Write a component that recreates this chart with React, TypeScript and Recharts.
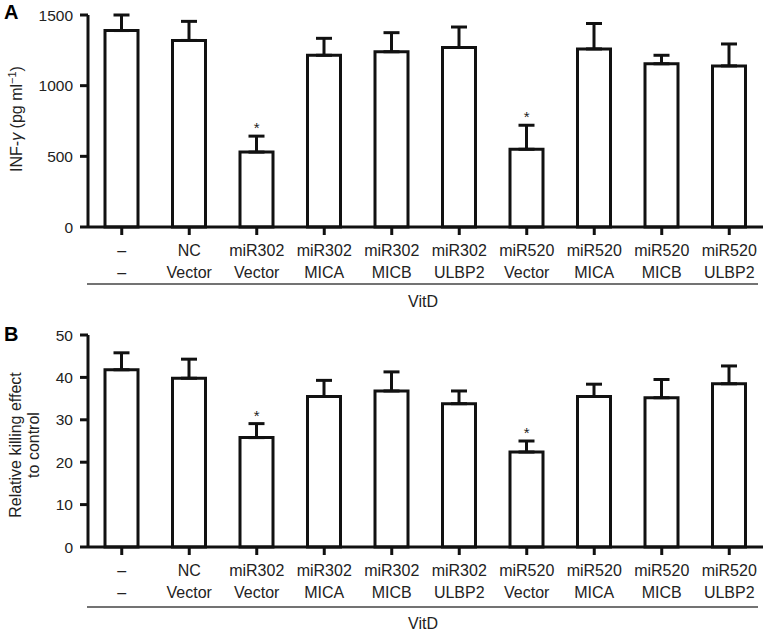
import { BarChart, Bar, XAxis, YAxis, ErrorBar, ReferenceDot } from 'recharts';

const groupTop = ['–', 'NC', 'miR302', 'miR302', 'miR302', 'miR302', 'miR520', 'miR520', 'miR520', 'miR520'];
const groupBottom = ['–', 'Vector', 'Vector', 'MICA', 'MICB', 'ULBP2', 'Vector', 'MICA', 'MICB', 'ULBP2'];
const infGamma = [1390, 1320, 530, 1215, 1240, 1270, 550, 1260, 1155, 1140];
const infGammaErr = [110, 135, 113, 120, 135, 145, 170, 180, 60, 155];
const killing = [41.8, 39.8, 25.8, 35.5, 36.8, 33.8, 22.4, 35.5, 35.2, 38.5];
const killingErr = [4, 4.5, 3.3, 3.8, 4.5, 3, 2.6, 2.9, 4.3, 4.2];
const significant = [false, false, true, false, false, false, true, false, false, false];
const infTicks = [0, 500, 1000, 1500];
const killTicks = [0, 10, 20, 30, 40, 50];

const FONT = '"Liberation Sans", Arial, Helvetica, sans-serif';
const INK = '#111';

function buildRows(values: number[], errs: number[]) {
  return values.map((v, i) => ({
    cat: `${groupTop[i]} ${groupBottom[i]}`,
    value: v,
    err: [0, errs[i]],
    top: v + errs[i],
    sig: significant[i],
  }));
}

function TwoLineTick(props: any) {
  const { x, y, index } = props;
  return (
    <g>
      <text x={x} y={y + 21} textAnchor="middle" fontSize={16} fontFamily={FONT} fill="#222">
        {groupTop[index]}
      </text>
      <text x={x} y={y + 43} textAnchor="middle" fontSize={16} fontFamily={FONT} fill="#222">
        {groupBottom[index]}
      </text>
    </g>
  );
}

interface PanelProps {
  values: number[];
  errs: number[];
  max: number;
  ticks: number[];
}

function Panel({ values, errs, max, ticks }: PanelProps) {
  const rows = buildRows(values, errs);
  return (
    <BarChart width={766} height={300} data={rows} margin={{ top: 15, right: 3, left: 0, bottom: 0 }} barCategoryGap={17}>
      <XAxis
        dataKey="cat"
        interval={0}
        height={73}
        tickSize={8}
        tickMargin={0}
        axisLine={{ stroke: INK, strokeWidth: 3 }}
        tickLine={{ stroke: INK, strokeWidth: 3 }}
        tick={<TwoLineTick />}
      />
      <YAxis
        domain={[0, max]}
        ticks={ticks}
        interval={0}
        width={88}
        tickSize={8}
        tickMargin={7}
        axisLine={{ stroke: INK, strokeWidth: 3 }}
        tickLine={{ stroke: INK, strokeWidth: 3 }}
        tick={{ fill: '#222', fontSize: 15.5, fontFamily: FONT }}
      />
      <Bar dataKey="value" fill="#fff" stroke={INK} strokeWidth={3} barSize={33} isAnimationActive={false}>
        <ErrorBar dataKey="err" width={8} stroke={INK} strokeWidth={3} direction="y" />
      </Bar>
      {rows
        .filter((r) => r.sig)
        .map((r) => (
          <ReferenceDot
            key={r.cat}
            x={r.cat}
            y={r.top}
            r={0}
            fill="none"
            stroke="none"
            label={{ value: '*', position: 'top', offset: 3, fontSize: 15, fill: '#222', fontFamily: FONT }}
          />
        ))}
    </BarChart>
  );
}

export default function App() {
  return (
    <div style={{ position: 'absolute', left: 0, top: 0, width: 766, height: 634, background: '#fff', overflow: 'hidden' }}>
      <div style={{ position: 'absolute', left: 0, top: 0 }}>
        <Panel values={infGamma} errs={infGammaErr} max={1500} ticks={infTicks} />
      </div>
      <div style={{ position: 'absolute', left: 0, top: 320 }}>
        <Panel values={killing} errs={killingErr} max={50} ticks={killTicks} />
      </div>
      <svg width={766} height={634} style={{ position: 'absolute', left: 0, top: 0, pointerEvents: 'none' }}>
        <g fontFamily={FONT} fill="#222">
          <text x={4} y={19} fontSize={20} fontWeight="bold" fill="#000">A</text>
          <text x={4} y={341} fontSize={20} fontWeight="bold" fill="#000">B</text>
          <text transform="translate(22,119) rotate(-90)" textAnchor="middle" fontSize={16}>
            INF-<tspan fontStyle="italic">γ</tspan> (pg ml
            <tspan fontSize={11} dy={-6}>−1</tspan>
            <tspan dy={6}>)</tspan>
          </text>
          <text transform="translate(21,445) rotate(-90)" textAnchor="middle" fontSize={16}>
            Relative killing effect
          </text>
          <text transform="translate(39,445) rotate(-90)" textAnchor="middle" fontSize={16}>
            to control
          </text>
          <line x1={87} x2={758} y1={284} y2={284} stroke="#444" strokeWidth={1.5} />
          <text x={423} y={307} textAnchor="middle" fontSize={16}>VitD</text>
          <line x1={87} x2={758} y1={607} y2={607} stroke="#444" strokeWidth={1.5} />
          <text x={423} y={629} textAnchor="middle" fontSize={16}>VitD</text>
        </g>
      </svg>
    </div>
  );
}
